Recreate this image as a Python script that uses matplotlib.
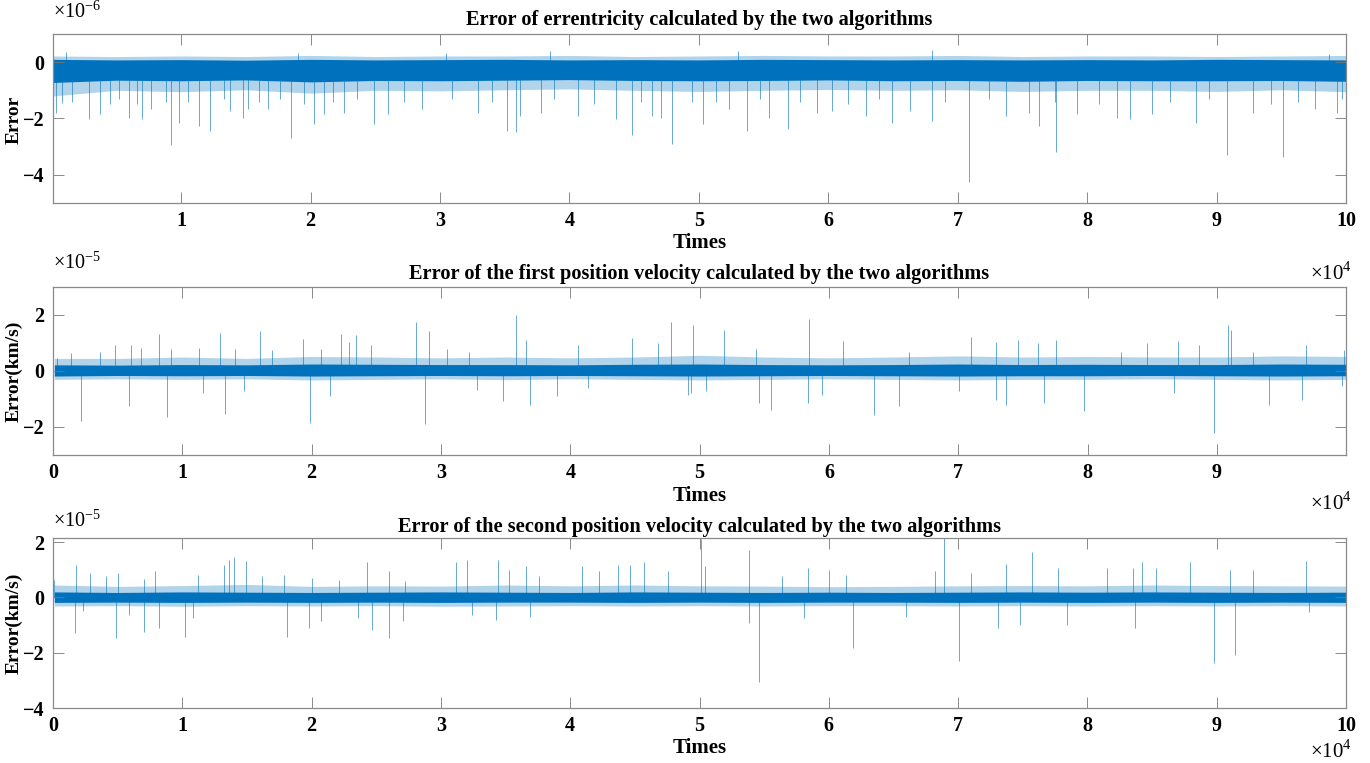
import matplotlib
matplotlib.use("Agg")
import matplotlib.pyplot as plt
from matplotlib.ticker import FixedLocator, FuncFormatter

plt.rcParams['font.family'] = ['Liberation Serif', 'DejaVu Serif']
plt.rcParams['mathtext.fontset'] = 'custom'
plt.rcParams['mathtext.rm'] = 'Liberation Serif'
plt.rcParams['axes.unicode_minus'] = True

BLUE = '#0072BD'

# ---------------- data (times in units of 1e4, values in axis units) ----------------
# Panel 1: eccentricity error (x1e-6)
p1_env_x = [0.01, 0.5, 1.0, 1.5, 2.0, 2.5, 3.0, 3.5, 4.0, 4.5, 5.0, 5.5, 6.0, 6.5, 7.0, 7.5, 8.0, 8.5, 9.0, 9.5, 10.0]
p1_core_hi = [0.10, 0.08, 0.09, 0.07, 0.10, 0.08, 0.09, 0.10, 0.08, 0.09, 0.08, 0.10, 0.09, 0.08, 0.09, 0.08, 0.09, 0.08, 0.10, 0.09, 0.08]
p1_core_lo = [-0.72, -0.64, -0.66, -0.63, -0.70, -0.65, -0.66, -0.64, -0.62, -0.65, -0.66, -0.65, -0.63, -0.66, -0.65, -0.68, -0.65, -0.66, -0.66, -0.65, -0.68]
p1_fr_hi = [0.22, 0.20, 0.22, 0.20, 0.24, 0.20, 0.22, 0.22, 0.24, 0.20, 0.22, 0.24, 0.22, 0.22, 0.24, 0.20, 0.22, 0.22, 0.20, 0.22, 0.24]
p1_fr_lo = [-1.20, -1.00, -1.05, -0.98, -1.10, -1.00, -1.02, -0.98, -0.95, -1.00, -1.04, -1.00, -0.97, -1.00, -0.98, -1.04, -1.00, -1.00, -1.04, -0.98, -1.05]
p1_spike_x = [0.034, 0.08, 0.29, 0.37, 0.60, 0.70, 0.77, 0.924, 0.98, 1.14, 1.22, 1.38, 1.48, 1.52, 1.67,
              1.85, 2.03, 2.10, 2.26, 2.49, 2.60, 2.86, 3.29, 3.52, 3.59, 3.62, 3.78, 4.07, 4.36, 4.48,
              4.64, 4.71, 4.79, 5.03, 5.23, 5.37, 5.54, 5.69, 5.91, 6.03, 6.29, 6.49, 6.63, 6.80, 7.09,
              7.37, 7.55, 7.63, 7.76, 7.92, 8.23, 8.33, 8.50, 8.84, 9.08, 9.28, 9.51, 9.76, 9.93]
p1_spike_y = [-1.80, -1.45, -2.03, -1.85, -1.97, -2.03, -1.67, -2.93, -2.15, -2.27, -2.45, -1.73, -1.97, -1.67, -1.67,
              -2.69, -2.21, -1.85, -1.79, -2.21, -1.85, -1.67, -1.79, -2.45, -2.48, -1.91, -1.79, -1.91, -2.03, -2.57,
              -1.91, -1.97, -2.89, -2.21, -1.67, -2.45, -1.97, -2.37, -1.79, -1.73, -1.91, -2.15, -1.73, -2.09, -4.24,
              -1.91, -1.79, -2.25, -3.20, -1.85, -1.97, -2.03, -1.85, -2.15, -3.29, -1.79, -3.37, -1.67, -1.79]
p1_minor_x = [0.155, 0.45, 0.52, 0.66, 0.88, 1.05, 1.33, 1.60, 1.76, 1.95, 2.17, 2.36, 2.72, 3.09, 3.40, 3.88,
              4.19, 4.55, 4.95, 5.13, 5.47, 5.78, 6.15, 6.39, 6.90, 7.24, 7.75, 8.09, 8.64, 8.94, 9.42, 9.63, 9.97,
              0.11, 1.90, 3.05, 3.85, 5.30, 6.80, 9.87]
p1_minor_y = [-1.40, -1.50, -1.30, -1.50, -1.40, -1.40, -1.30, -1.40, -1.30, -1.50, -1.40, -1.30, -1.40, -1.30, -1.40, -1.30,
              -1.50, -1.40, -1.40, -1.40, -1.30, -1.40, -1.50, -1.30, -1.40, -1.30, -1.40, -1.50, -1.40, -1.30, -1.50, -1.40, -1.30,
              0.35, 0.33, 0.33, 0.40, 0.40, 0.42, 0.30]

# Panel 2: first position velocity error (x1e-5 km/s)
p2_env_x = p1_env_x
p2_core_hi = [0.22, 0.21, 0.23, 0.22, 0.25, 0.24, 0.23, 0.23, 0.22, 0.24, 0.25, 0.23, 0.22, 0.23, 0.25, 0.23, 0.24, 0.23, 0.23, 0.25, 0.24]
p2_core_lo = [-0.18, -0.16, -0.17, -0.16, -0.18, -0.17, -0.16, -0.17, -0.16, -0.17, -0.18, -0.17, -0.16, -0.17, -0.18, -0.17, -0.17, -0.16, -0.17, -0.18, -0.17]
p2_fr_hi = [0.45, 0.45, 0.50, 0.45, 0.52, 0.50, 0.47, 0.50, 0.47, 0.50, 0.56, 0.50, 0.47, 0.50, 0.54, 0.50, 0.52, 0.50, 0.50, 0.54, 0.52]
p2_fr_lo = [-0.30, -0.28, -0.30, -0.28, -0.32, -0.30, -0.28, -0.31, -0.28, -0.30, -0.32, -0.30, -0.28, -0.30, -0.32, -0.30, -0.30, -0.28, -0.30, -0.32, -0.30]
p2_spike_x = [0.03, 0.14, 0.36, 0.48, 0.60, 0.68, 0.82, 0.91, 1.13, 1.29, 1.41, 1.60, 1.69, 1.93, 2.07, 2.23, 2.29, 2.34,
              2.46, 2.81, 2.91, 3.05, 3.22, 3.58, 3.66, 4.06, 4.48, 4.68, 4.78, 4.95, 5.19, 5.44, 5.85, 6.11, 6.62,
              7.10, 7.29, 7.46, 7.62, 7.76, 8.26, 8.46, 8.70, 8.86, 9.09, 9.11, 9.28, 9.69, 9.98,
              0.22, 0.59, 0.88, 1.16, 1.33, 1.48, 1.99, 2.14, 2.88, 3.28, 3.48, 3.69, 3.90, 4.14, 4.91, 4.93,
              5.05, 5.46, 5.55, 5.84, 5.95, 6.35, 6.54, 7.01, 7.29, 7.37, 7.66, 7.97, 8.67, 8.98, 9.40, 9.66, 9.97]
p2_spike_y = [0.45, 0.63, 0.68, 0.94, 0.92, 0.83, 1.33, 0.80, 0.83, 1.37, 0.80, 1.42, 0.74, 1.16, 0.80, 1.33, 1.04, 1.27,
              0.92, 1.75, 1.42, 0.80, 0.68, 2.00, 1.10, 0.92, 1.18, 1.01, 1.75, 1.63, 1.45, 0.80, 1.86, 1.06, 0.68,
              1.22, 1.04, 1.10, 1.01, 1.10, 0.68, 1.01, 1.06, 0.94, 1.65, 1.45, 0.68, 0.94, 0.74,
              -1.77, -1.26, -1.64, -0.77, -1.53, -0.73, -1.85, -0.91, -1.91, -0.67, -1.06, -1.20, -0.91, -0.61, -0.85, -0.79,
              -0.73, -1.14, -1.38, -1.14, -0.85, -1.56, -1.26, -0.73, -1.05, -1.20, -1.14, -1.44, -0.79, -2.21, -1.23, -1.03, -0.55]

# Panel 3: second position velocity error (x1e-5 km/s)
p3_env_x = p1_env_x
p3_core_hi = [0.20, 0.18, 0.20, 0.19, 0.18, 0.19, 0.20, 0.19, 0.18, 0.20, 0.19, 0.18, 0.19, 0.18, 0.19, 0.20, 0.19, 0.20, 0.19, 0.18, 0.19]
p3_core_lo = [-0.18, -0.17, -0.18, -0.17, -0.18, -0.17, -0.18, -0.17, -0.17, -0.18, -0.17, -0.18, -0.17, -0.17, -0.18, -0.17, -0.18, -0.17, -0.18, -0.17, -0.18]
p3_fr_hi = [0.45, 0.40, 0.43, 0.47, 0.40, 0.42, 0.41, 0.45, 0.42, 0.45, 0.42, 0.41, 0.39, 0.40, 0.42, 0.43, 0.42, 0.45, 0.43, 0.42, 0.41]
p3_fr_lo = [-0.31, -0.30, -0.32, -0.30, -0.31, -0.30, -0.32, -0.31, -0.30, -0.31, -0.30, -0.31, -0.30, -0.30, -0.31, -0.30, -0.31, -0.30, -0.31, -0.30, -0.31]
p3_spike_x = [0.01, 0.18, 0.29, 0.41, 0.50, 0.70, 0.79, 1.12, 1.32, 1.36, 1.40, 1.49, 1.62, 1.79, 2.00, 2.21, 2.43, 2.60,
              2.72, 3.12, 3.20, 3.44, 3.53, 3.66, 3.76, 4.09, 4.22, 4.37, 4.46, 4.57, 4.76, 5.01, 5.04, 5.38, 5.64,
              5.84, 6.00, 6.13, 6.82, 6.89, 7.10, 7.37, 7.57, 7.77, 8.15, 8.35, 8.42, 8.53, 8.79, 9.10, 9.28, 9.69,
              0.17, 0.23, 0.49, 0.59, 0.70, 0.82, 1.02, 1.08, 1.81, 1.98, 2.07, 2.36, 2.47, 2.60, 2.71, 3.24, 3.43,
              3.69, 5.38, 5.46, 5.81, 6.19, 6.60, 7.01, 7.31, 7.48, 7.84, 8.37, 8.98, 9.14, 9.71]
p3_spike_y = [0.64, 1.19, 0.88, 0.76, 0.88, 0.68, 0.95, 0.82, 1.19, 1.37, 1.45, 1.31, 0.76, 0.82, 0.70, 0.64, 1.28, 0.95,
              0.58, 1.28, 1.37, 1.37, 1.00, 1.13, 0.76, 1.13, 0.95, 1.19, 1.19, 1.28, 0.95, 2.10, 1.13, 1.73, 0.76,
              1.07, 1.00, 0.82, 0.95, 2.16, 0.88, 1.21, 1.65, 1.07, 1.07, 1.07, 1.28, 1.07, 1.28, 1.00, 1.00, 1.31,
              -1.30, -0.48, -1.45, -0.63, -1.24, -1.09, -1.42, -0.75, -1.42, -1.12, -0.87, -0.75, -1.18, -1.48, -0.87, -0.63, -0.81,
              -0.69, -0.93, -3.05, -0.75, -1.84, -0.69, -2.30, -1.12, -0.99, -0.99, -1.12, -2.39, -2.08, -0.51]

titles = ["Error of errentricity calculated by the two algorithms",
          "Error of the first position velocity calculated by the two algorithms",
          "Error of the second position velocity calculated by the two algorithms"]
ylabels = ["Error", "Error(km/s)", "Error(km/s)"]
y_exponents = [-6, -5, -5]
y_ticks = [[-4, -2, 0], [-2, 0, 2], [-4, -2, 0, 2]]
x_tick_labels = [list(range(1, 11)), list(range(0, 10)), list(range(0, 11))]

# ---------------- figure ----------------
W, H = 1370, 763
fig = plt.figure(figsize=(W / 100, H / 100), dpi=100)

def fx(px):
    return px / W

def fy(py):
    return 1 - py / H

# axes boxes in pixels: (left, top, right, bottom)
boxes = [(53, 34, 1346, 203), (53, 287, 1346, 455), (53, 538, 1346, 708)]
xlims = [(0.01e4, 10e4), (0, 9.999e4), (0, 10e4)]
ylims = [(-5, 1), (-3, 3), (-4, 2.15)]

panels = [
    (p1_env_x, p1_core_hi, p1_core_lo, p1_fr_hi, p1_fr_lo, p1_spike_x + p1_minor_x, p1_spike_y + p1_minor_y, -0.30),
    (p2_env_x, p2_core_hi, p2_core_lo, p2_fr_hi, p2_fr_lo, p2_spike_x, p2_spike_y, 0.03),
    (p3_env_x, p3_core_hi, p3_core_lo, p3_fr_hi, p3_fr_lo, p3_spike_x, p3_spike_y, 0.0),
]

title_y = [20, 274, 527]
exp_y = [12, 263, 521]
xlabel_y = [243, 496, 748]
xexp_y = [273, 503, 751]
ylabel_y = [120, 371, 623]

for i, (l, t, r, b) in enumerate(boxes):
    ax = fig.add_axes([fx(l), fy(b), fx(r) - fx(l), (b - t) / H])
    ex, chi, clo, fhi, flo, sx, sy, base = panels[i]
    exs = [v * 1e4 for v in ex]
    ax.fill_between(exs, flo, fhi, color=BLUE, alpha=0.3, lw=0)
    ax.fill_between(exs, clo, chi, color=BLUE, alpha=1.0, lw=0)
    ax.vlines([v * 1e4 for v in sx], base, sy, color=BLUE, lw=0.6, alpha=0.7)

    ax.set_xlim(*xlims[i])
    ax.set_ylim(*ylims[i])
    ax.xaxis.set_major_locator(FixedLocator([v * 1e4 for v in x_tick_labels[i]]))
    ax.xaxis.set_major_formatter(FuncFormatter(lambda v, p: f"{v / 1e4:g}"))
    ax.yaxis.set_major_locator(FixedLocator(y_ticks[i]))
    ax.yaxis.set_major_formatter(FuncFormatter(lambda v, p: f"{v:g}".replace('-', '\u2212')))
    ax.tick_params(direction='in', length=8, width=0.6, color='#777777',
                   top=True, right=True, labelsize=14.5, pad=6)
    for lab in ax.get_xticklabels() + ax.get_yticklabels():
        lab.set_fontweight('bold')
    for s in ax.spines.values():
        s.set_color('#8a8a8a')
        s.set_linewidth(0.9)

    cx = (l + r) / 2
    fig.text(fx(cx), fy(title_y[i]), titles[i], ha='center', va='center',
             fontsize=14.7, fontweight='bold')
    fig.text(fx(cx), fy(xlabel_y[i]), "Times", ha='center', va='center',
             fontsize=15, fontweight='bold')
    fig.text(fx(1352), fy(xexp_y[i]), r"$\times10^{4}$", ha='right', va='center', fontsize=15)
    fig.text(fx(53), fy(exp_y[i]), r"$\times10^{%d}$" % y_exponents[i], ha='left', va='center', fontsize=14.5)
    fig.text(fx(14), fy(ylabel_y[i]), ylabels[i], ha='center', va='center', rotation=90,
             fontsize=14, fontweight='bold')

fig.savefig("out.png", dpi=100)
